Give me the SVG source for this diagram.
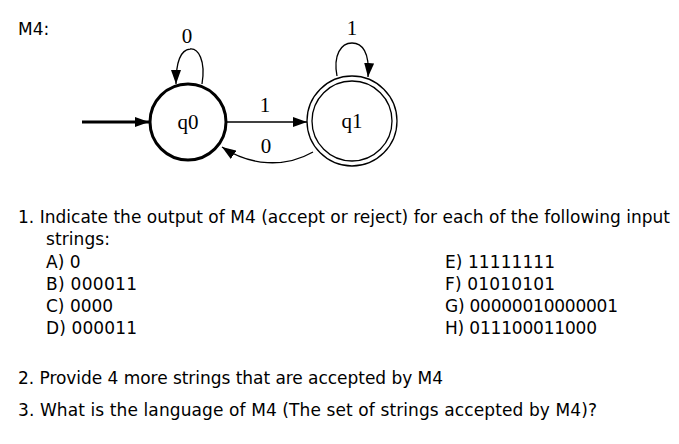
<svg xmlns="http://www.w3.org/2000/svg" width="679" height="444" viewBox="0 0 679 444">
<style>
.t{font-family:"DejaVu Sans",sans-serif;font-size:17px;fill:#000}
.s{font-family:"Liberation Serif",serif;font-size:21px;fill:#000;text-anchor:middle}
.e{fill:none;stroke:#000;stroke-width:1.3}
</style>
<defs><marker id="b" markerWidth="14" markerHeight="10" refX="14" refY="5" orient="auto" markerUnits="userSpaceOnUse"><path d="M0,0L14,5L0,10z" fill="#000"/></marker></defs>
<rect width="679" height="444" fill="#fff"/>
<text class="t" x="18" y="35">M4:</text>
<g id="q0"><circle cx="188" cy="122" r="38" fill="none" stroke="#000" stroke-width="3"/><text class="s" x="188" y="129">q0</text></g>
<g id="q1"><circle cx="352" cy="121" r="45" fill="none" stroke="#000" stroke-width="1.3"/><circle cx="352" cy="121" r="40" fill="none" stroke="#000" stroke-width="1.3"/><text class="s" x="352" y="128">q1</text></g>
<g id="edges">
<path d="M82,122H149" stroke="#000" stroke-width="3" fill="none" marker-end="url(#b)"/>
<path class="e" d="M227,122H307" marker-end="url(#b)"/>
<text class="s" x="265" y="112">1</text>
<path class="e" d="M313,152C285,168 250,166 222,147" marker-end="url(#b)"/>
<text class="s" x="266" y="153">0</text>
<path class="e" d="M202,84C206,60 198,48 190,49C180,50 176,62 176,84" marker-end="url(#b)"/>
<text class="s" x="187" y="43">0</text>
<path class="e" d="M337,76C333,55 341,43 352,43C362,43 370,52 368,77" marker-end="url(#b)"/>
<text class="s" x="352" y="35">1</text>
</g>
<text class="t" x="18" y="223" textLength="652">1.  Indicate the output of M4 (accept or reject) for each of the following input</text>
<text class="t" x="46" y="245" textLength="64">strings:</text>
<text class="t" x="46" y="268">A) 0</text>
<text class="t" x="46" y="290" textLength="91">B) 000011</text>
<text class="t" x="46" y="312">C) 0000</text>
<text class="t" x="46" y="334" textLength="91">D) 000011</text>
<text class="t" x="445" y="268" textLength="110">E) 11111111</text>
<text class="t" x="445" y="290" textLength="110">F) 01010101</text>
<text class="t" x="445" y="312" textLength="173">G) 00000010000001</text>
<text class="t" x="445" y="334" textLength="152">H) 011100011000</text>
<text class="t" x="18" y="384" textLength="425">2.  Provide 4 more strings that are accepted by M4</text>
<text class="t" x="18" y="416" textLength="579">3.  What is the language of M4 (The set of strings accepted by M4)?</text>
</svg>
